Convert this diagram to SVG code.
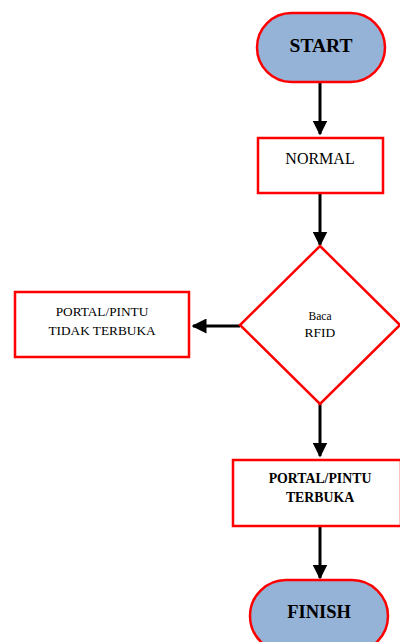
<svg xmlns="http://www.w3.org/2000/svg" width="400" height="642" viewBox="0 0 400 642">
<style>
.n{fill:#fff;stroke:#ff0000;stroke-width:2.5}
.t{fill:#95b3d7;stroke:#ff0000;stroke-width:2.5}
text{font-family:"Liberation Serif","Times New Roman",serif;fill:#000;text-anchor:middle}
.c line{stroke:#000;stroke-width:3}
</style>
<defs>
<marker id="ah" markerWidth="5" markerHeight="5" refX="4.5" refY="2.5" orient="auto" markerUnits="strokeWidth">
<path d="M0,0 L5,2.5 L0,5 Z" fill="#000"/>
</marker>
</defs>
<g class="c">
<line x1="320" y1="82" x2="320" y2="134" marker-end="url(#ah)"/>
<line x1="320" y1="193" x2="320" y2="245" marker-end="url(#ah)"/>
<line x1="240" y1="326" x2="193" y2="326" marker-end="url(#ah)"/>
<line x1="320" y1="404" x2="320" y2="456" marker-end="url(#ah)"/>
<line x1="320" y1="526" x2="320" y2="578" marker-end="url(#ah)"/>
</g>
<g id="start">
<rect class="t" x="257" y="13" width="128" height="69" rx="34.5"/>
<text x="321" y="52" font-size="19.5" font-weight="bold">START</text>
</g>
<g id="normal">
<rect class="n" x="258" y="138" width="125" height="55"/>
<text x="320" y="164" font-size="16">NORMAL</text>
</g>
<g id="baca">
<polygon class="n" points="320,246 400,325 320,404 240,325"/>
<text x="320" y="320" font-size="11.5" fill="#222">Baca</text>
<text x="320" y="337" font-size="13.5">RFID</text>
</g>
<g id="tidak">
<rect class="n" x="15" y="292" width="174" height="65"/>
<text x="102" y="316" font-size="13.3">PORTAL/PINTU</text>
<text x="102" y="335" font-size="13.3">TIDAK TERBUKA</text>
</g>
<g id="terbuka">
<rect class="n" x="233" y="460" width="168" height="66"/>
<text x="320" y="483" font-size="13.8" font-weight="bold">PORTAL/PINTU</text>
<text x="320" y="502" font-size="13.8" font-weight="bold">TERBUKA</text>
</g>
<g id="finish">
<rect class="t" x="250" y="580" width="138" height="72" rx="36"/>
<text x="319" y="618" font-size="18.5" font-weight="bold">FINISH</text>
</g>
</svg>
